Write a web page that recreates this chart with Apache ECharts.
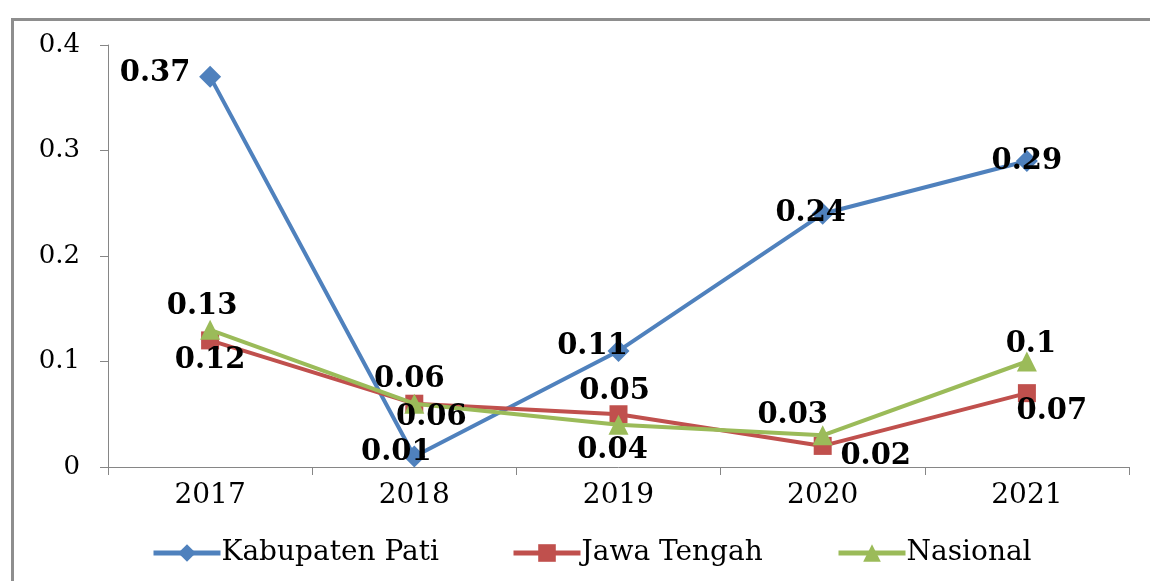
<!DOCTYPE html>
<html>
<head>
<meta charset="utf-8">
<script src="https://cdn.jsdelivr.net/npm/echarts@6/dist/echarts.min.js"></script>
<style>
html,body{margin:0;padding:0;background:#fff;}
#chart{width:1150px;height:581px;}
</style>
</head>
<body>
<div id="chart"></div>
<script>
// ---- data ----
var categories = ['2017', '2018', '2019', '2020', '2021'];
var seriesNames = ['Kabupaten Pati', 'Jawa Tengah', 'Nasional'];
var kabupatenPati = [0.37, 0.01, 0.11, 0.24, 0.29];
var jawaTengah = [0.12, 0.06, 0.05, 0.02, 0.07];
var nasional = [0.13, 0.06, 0.04, 0.03, 0.10];
var yTicks = [0, 0.1, 0.2, 0.3, 0.4];

// ---- label placement (style only) ----
var offPati = [[-55, -3], [-18, -4], [-26, -4], [-12, 0], [0, 0]];
var offJawa = [[0, 20], [-5, -24], [-4, -23], [53, 11], [25, 18]];
var offNas = [[-8, -23], [17, 14], [-6, 26], [-30, -20], [4, -17]];

var SERIF = '"DejaVu Serif", serif';
var labelFont = {fontFamily: SERIF, fontWeight: 'bold', fontSize: 29, color: '#000'};

function build(values, offsets) {
  return values.map(function (v, i) {
    return {
      value: v,
      label: Object.assign({show: true, position: 'inside', offset: offsets[i],
        formatter: function (p) { return String(p.value); }}, labelFont)
    };
  });
}

var legendLefts = [146, 506, 831];
var legends = seriesNames.map(function (n, i) {
  return {
    data: [n], left: legendLefts[i], top: 534,
    itemWidth: 67, itemHeight: 22, itemGap: 0,
    lineStyle: {width: 5},
    textStyle: {fontFamily: SERIF, fontSize: 28, color: '#000', padding: [0, 0, 0, -4]}
  };
});

var chart = echarts.init(document.getElementById('chart'), null, {renderer: 'canvas'});
chart.setOption({
  animation: false,
  backgroundColor: '#fff',
  graphic: [{
    type: 'rect', left: 10, top: 17, z: -1,
    shape: {width: 1160, height: 600},
    style: {fill: 'none', stroke: '#8e8e8e', lineWidth: 3}
  }],
  grid: {left: 108, right: 21, top: 45, bottom: 114, containLabel: false},
  legend: legends,
  xAxis: {
    type: 'category', data: categories, boundaryGap: true,
    axisLine: {lineStyle: {color: '#868686', width: 1}},
    axisTick: {show: true, length: 8, alignWithLabel: false, lineStyle: {color: '#868686'}},
    axisLabel: {fontFamily: SERIF, fontSize: 28, color: '#000', margin: 15}
  },
  yAxis: {
    type: 'value', min: yTicks[0], max: yTicks[yTicks.length - 1], interval: 0.1,
    axisLine: {show: true, lineStyle: {color: '#868686', width: 1}},
    axisTick: {show: true, length: 8, lineStyle: {color: '#868686'}},
    splitLine: {show: false},
    axisLabel: {fontFamily: SERIF, fontSize: 26, color: '#000', margin: 28,
      formatter: function (v) { return String(Math.round(v * 10) / 10); }}
  },
  series: [
    {
      name: seriesNames[0], type: 'line', data: build(kabupatenPati, offPati),
      symbol: 'diamond', symbolSize: 22, showAllSymbol: true,
      lineStyle: {color: '#4F81BD', width: 4}, itemStyle: {color: '#4F81BD'}, z: 3
    },
    {
      name: seriesNames[1], type: 'line', data: build(jawaTengah, offJawa),
      symbol: 'rect', symbolSize: 18, showAllSymbol: true,
      lineStyle: {color: '#C0504D', width: 4}, itemStyle: {color: '#C0504D'}, z: 4
    },
    {
      name: seriesNames[2], type: 'line', data: build(nasional, offNas),
      symbol: 'triangle', symbolSize: 20, showAllSymbol: true,
      lineStyle: {color: '#9BBB59', width: 4}, itemStyle: {color: '#9BBB59'}, z: 5
    }
  ]
});
</script>
</body>
</html>
